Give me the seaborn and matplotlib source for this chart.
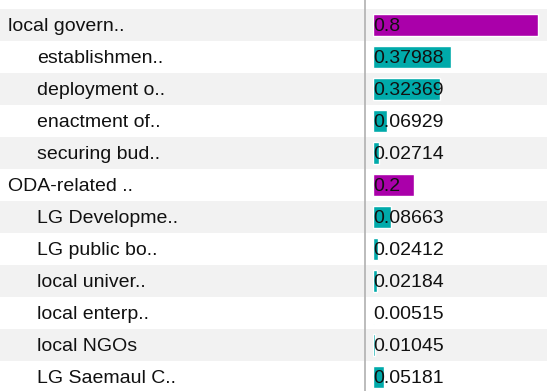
import pandas as pd
import matplotlib.pyplot as plt
import seaborn as sns

sns.set_theme(style="white")
plt.rcParams["font.family"] = ["Liberation Sans", "DejaVu Sans"]

# --- dados ---
labels = ["local govern..", "establishmen..", "deployment o..", "enactment of..",
          "securing bud..", "ODA-related ..", "LG Developme..", "LG public bo..",
          "local univer..", "local enterp..", "local NGOs", "LG Saemaul C.."]
values = [0.8, 0.37988, 0.32369, 0.06929, 0.02714, 0.2, 0.08663, 0.02412,
          0.02184, 0.00515, 0.01045, 0.05181]
value_text = ["0.8", "0.37988", "0.32369", "0.06929", "0.02714", "0.2", "0.08663",
              "0.02412", "0.02184", "0.00515", "0.01045", "0.05181"]
level = ["parent", "child", "child", "child", "child", "parent", "child", "child",
         "child", "child", "child", "child"]

df = pd.DataFrame({"label": labels, "value": values, "level": level})

W, H = 547, 391
fig = plt.figure(figsize=(W / 100, H / 100), dpi=100)
y_top, y_bot = -25 / 32, (H - 25) / 32
base = 0.19  # deslocamento da linha de base do texto

# fundo: faixas, nomes e linha vertical
bg = fig.add_axes([0, 0, 1, 1])
bg.set_xlim(0, W)
bg.set_ylim(y_bot, y_top)
bg.axis("off")
for i, lab in enumerate(labels):
    if i % 2 == 0:
        bg.axhspan(i - 0.5, i + 0.5, color="#f2f2f2", lw=0, zorder=0)
    x0 = 8 if level[i] == "parent" else 37
    bg.text(x0, i + base, lab, fontsize=14, va="baseline", ha="left", color="#111111")
bg.axvline(365, color="#b0b0b0", lw=1.2)

# barras
x_left = 373
ax = fig.add_axes([x_left / W, 0, 1 - x_left / W, 1])
ax.patch.set_alpha(0)
sns.barplot(data=df, x="value", y="label", hue="level", order=labels,
            palette={"parent": "#aa00aa", "child": "#00aaaa"}, dodge=False,
            width=0.7, legend=False, ax=ax, saturation=1)
ax.set_xlim(0, (W - x_left) / 206)
ax.set_ylim(y_bot, y_top)
ax.axis("off")
for i, t in enumerate(value_text):
    ax.text(0, i + base, t, fontsize=14, va="baseline", ha="left", color="#111111")

fig.savefig("out.png", dpi=100)
